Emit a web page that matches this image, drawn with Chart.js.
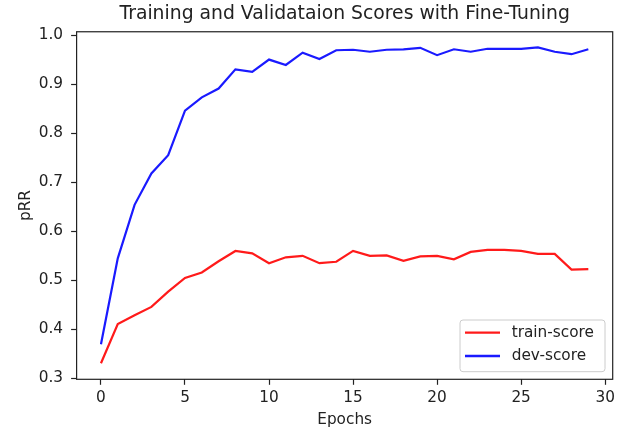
<!DOCTYPE html>
<html>
<head>
<meta charset="utf-8">
<script src="https://cdn.jsdelivr.net/npm/chart.js@4/dist/chart.umd.min.js"></script>
<style>
html,body{margin:0;padding:0;background:#fff;}
#wrap{width:624px;height:430px;}
</style>
</head>
<body>
<div id="wrap"><canvas id="c" width="624" height="430"></canvas></div>
<script>
const epochs = [0,1,2,3,4,5,6,7,8,9,10,11,12,13,14,15,16,17,18,19,20,21,22,23,24,25,26,27,28,29];
const trainScores = [0.331,0.411,0.429,0.446,0.477,0.505,0.516,0.539,0.560,0.555,0.535,0.547,0.550,0.535,0.538,0.560,0.550,0.551,0.540,0.549,0.550,0.543,0.558,0.562,0.562,0.560,0.554,0.554,0.522,0.523];
const devScores = [0.370,0.545,0.654,0.718,0.755,0.846,0.873,0.891,0.930,0.925,0.950,0.939,0.964,0.951,0.969,0.970,0.966,0.970,0.971,0.974,0.959,0.971,0.966,0.972,0.972,0.972,0.975,0.966,0.961,0.971];
const xTickValues = [0,5,10,15,20,25,30];
const yTickValues = [0.3,0.4,0.5,0.6,0.7,0.8,0.9,1.0];
const seriesNames = ['train-score','dev-score'];
const seriesColors = ['#ff1a1a','#1a1aff'];
const titleText = 'Training and Validataion Scores with Fine-Tuning';
const xLabel = 'Epochs';
const yLabel = 'pRR';

const FONT = 'DejaVu Sans';
const FS = 15.3;
const TXT = '#222';

const framePlugin = {
  id: 'frame',
  afterDatasetsDraw(chart) {
    const {ctx, chartArea: a} = chart;
    ctx.save();
    ctx.strokeStyle = '#222';
    ctx.lineWidth = 1.2;
    ctx.strokeRect(a.left, a.top, a.right - a.left, a.bottom - a.top);
    ctx.restore();
  }
};

const legendPlugin = {
  id: 'mplLegend',
  afterDraw(chart) {
    const {ctx, chartArea: a} = chart;
    const w = 145, h = 51.7;
    const x0 = a.right - 7.7 - w, y0 = a.bottom - 7.6 - h;
    ctx.save();
    const r = 3;
    ctx.beginPath();
    ctx.moveTo(x0 + r, y0);
    ctx.lineTo(x0 + w - r, y0);
    ctx.arcTo(x0 + w, y0, x0 + w, y0 + r, r);
    ctx.lineTo(x0 + w, y0 + h - r);
    ctx.arcTo(x0 + w, y0 + h, x0 + w - r, y0 + h, r);
    ctx.lineTo(x0 + r, y0 + h);
    ctx.arcTo(x0, y0 + h, x0, y0 + h - r, r);
    ctx.lineTo(x0, y0 + r);
    ctx.arcTo(x0, y0, x0 + r, y0, r);
    ctx.closePath();
    ctx.fillStyle = 'rgba(255,255,255,0.8)';
    ctx.fill();
    ctx.strokeStyle = '#cccccc';
    ctx.lineWidth = 1;
    ctx.stroke();
    ctx.font = FS + 'px "' + FONT + '"';
    ctx.textBaseline = 'middle';
    ctx.textAlign = 'left';
    chart.data.datasets.forEach((ds, i) => {
      const yy = y0 + 12.7 + i * 23.3;
      ctx.beginPath();
      ctx.moveTo(x0 + 5, yy);
      ctx.lineTo(x0 + 40, yy);
      ctx.strokeStyle = ds.borderColor;
      ctx.lineWidth = 2.3;
      ctx.stroke();
      ctx.fillStyle = TXT;
      ctx.fillText(ds.label, x0 + 51.7, yy);
    });
    ctx.restore();
  }
};

new Chart(document.getElementById('c'), {
  type: 'line',
  data: {
    datasets: [
      { label: seriesNames[0], data: epochs.map((e, i) => ({x: e, y: trainScores[i]})), borderColor: seriesColors[0], borderWidth: 2.2, pointRadius: 0, tension: 0, fill: false },
      { label: seriesNames[1], data: epochs.map((e, i) => ({x: e, y: devScores[i]})), borderColor: seriesColors[1], borderWidth: 2.2, pointRadius: 0, tension: 0, fill: false }
    ]
  },
  options: {
    responsive: false,
    devicePixelRatio: 1,
    animation: false,
    layout: { padding: { left: 0, right: 11.3, top: 0, bottom: 0 } },
    plugins: {
      legend: { display: false },
      tooltip: { enabled: false },
      title: {
        display: true, text: titleText, fullSize: false, color: TXT,
        font: { family: FONT, size: 18.8, weight: 'normal', lineHeight: 1.2 },
        padding: { top: 3.2, bottom: 6.0 }
      }
    },
    scales: {
      x: {
        type: 'linear', min: -1.45, max: 30.45,
        afterBuildTicks: s => { s.ticks = xTickValues.map(v => ({value: v})); },
        afterFit: s => { s.height = 50.7; },
        ticks: { callback: v => String(v), color: TXT, font: { family: FONT, size: FS }, padding: 3.7, maxRotation: 0, autoSkip: false },
        grid: { drawOnChartArea: false, drawTicks: true, tickLength: 5.5, tickColor: '#222', tickWidth: 1.2 },
        border: { display: false },
        title: { display: true, text: xLabel, color: TXT, font: { family: FONT, size: FS, lineHeight: 1.2 }, padding: { top: 0, bottom: 1.1 } }
      },
      y: {
        type: 'linear', min: 0.2984, max: 1.0067,
        afterBuildTicks: s => { s.ticks = yTickValues.map(v => ({value: v})); },
        afterFit: s => { s.width = 76.6; },
        ticks: { callback: v => Number(v).toFixed(1), color: TXT, font: { family: FONT, size: FS }, padding: 8, autoSkip: false },
        grid: { drawOnChartArea: false, drawTicks: true, tickLength: 5.5, tickColor: '#222', tickWidth: 1.2 },
        border: { display: false },
        title: { display: true, text: yLabel, color: TXT, font: { family: FONT, size: FS, lineHeight: 1.2 }, padding: { top: 16.5, bottom: 0 } }
      }
    }
  },
  plugins: [framePlugin, legendPlugin]
});
</script>
</body>
</html>
